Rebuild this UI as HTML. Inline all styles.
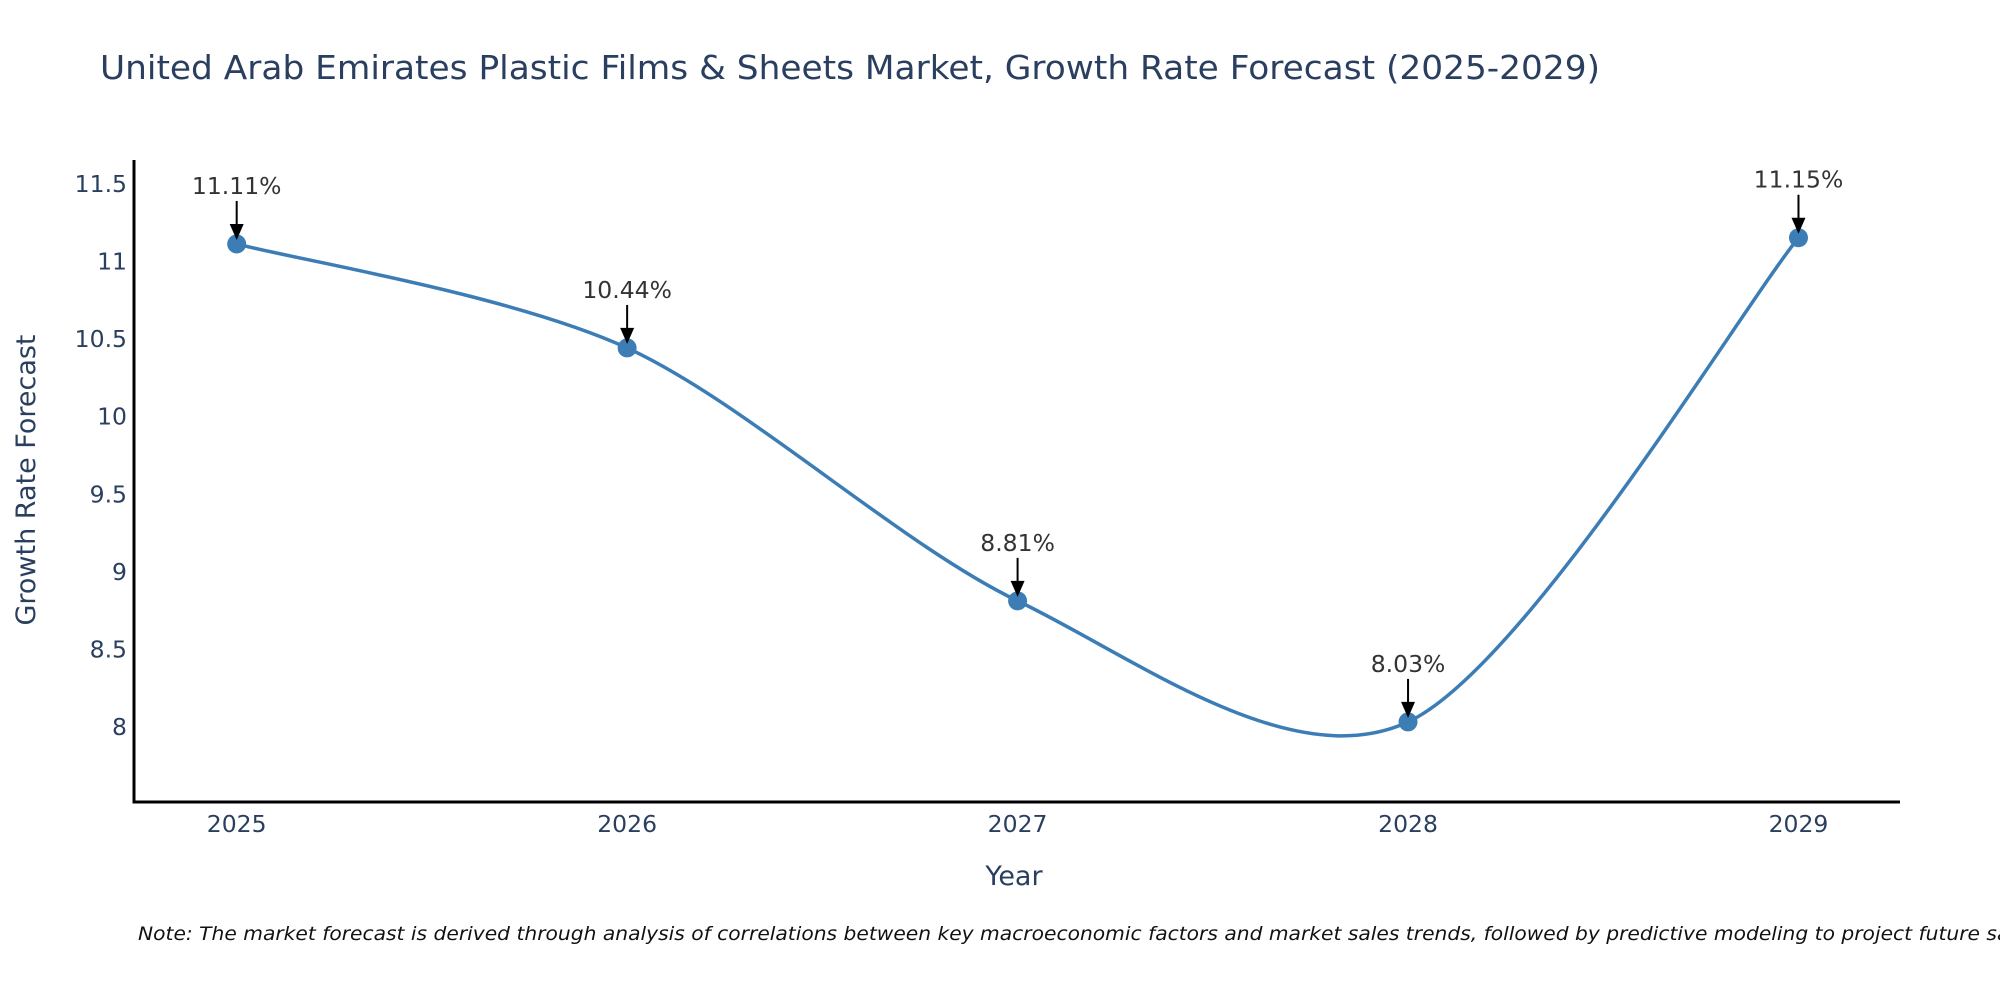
<!DOCTYPE html>
<html><head><meta charset="utf-8"><style>
html,body{margin:0;padding:0;background:#fff;}
svg{display:block;font-family:"DejaVu Sans","Liberation Sans",sans-serif;}
</style></head><body>
<svg id="chart" width="2000" height="1000" viewBox="0 0 2000 1000">
<text x="100" y="79" font-size="33" fill="#2a3f5f" textLength="1500" lengthAdjust="spacingAndGlyphs">United Arab Emirates Plastic Films &amp; Sheets Market, Growth Rate Forecast (2025-2029)</text>
<g id="plot"></g>
<text x="1014" y="885" font-size="27" fill="#2a3f5f" text-anchor="middle">Year</text>
<text transform="translate(35,480) rotate(-90)" font-size="27" fill="#2a3f5f" text-anchor="middle">Growth Rate Forecast</text>
<text x="138" y="940" font-size="19" font-style="italic" fill="#111" textLength="1900" lengthAdjust="spacingAndGlyphs">Note: The market forecast is derived through analysis of correlations between key macroeconomic factors and market sales trends, followed by predictive modeling to project future sales</text>
</svg>
<script>
const years = [2025, 2026, 2027, 2028, 2029];
const growth = [11.11, 10.44, 8.81, 8.03, 11.15];
const labels = ["11.11%", "10.44%", "8.81%", "8.03%", "11.15%"];
const yTicks = [8, 8.5, 9, 9.5, 10, 10.5, 11, 11.5];
const yTickLabels = ["8", "8.5", "9", "9.5", "10", "10.5", "11", "11.5"];

const NS = "http://www.w3.org/2000/svg";
const L = 134, R = 1900, T = 160, B = 802;
const xMin = 2024.737, xMax = 2029.26, yMin = 7.514, yMax = 11.651;
const xs = v => L + (v - xMin) / (xMax - xMin) * (R - L);
const ys = v => B - (v - yMin) / (yMax - yMin) * (B - T);
const g = document.getElementById('plot');
function mk(tag, attrs, parent) {
  const e = document.createElementNS(NS, tag);
  for (const k in attrs) e.setAttribute(k, attrs[k]);
  (parent || g).appendChild(e);
  return e;
}
const defs = mk('defs', {});
const mkr = mk('marker', {id: 'ah', markerWidth: 8, markerHeight: 8, refX: 7, refY: 4, orient: 'auto', markerUnits: 'userSpaceOnUse'}, defs);
mk('path', {d: 'M0,0 L8,4 L0,8 Z', fill: '#000', transform: 'scale(1.8) translate(-3.1,-1.8)'}, mkr);
mkr.setAttribute('viewBox', '0 0 8 8');
mkr.setAttribute('markerWidth', '16');
mkr.setAttribute('markerHeight', '16');

const ya = mk('line', {x1: L, y1: T, x2: L, y2: B + 1.5, stroke: '#000', 'stroke-width': 3});


const xa = mk('line', {x1: L - 1.5, y1: B, x2: R, y2: B, stroke: '#000', 'stroke-width': 3});



yTicks.forEach((v, i) => {
  const t = mk('text', {x: 127, y: ys(v) + 8.5, 'font-size': 23.5, fill: '#2a3f5f', 'text-anchor': 'end'});
  t.textContent = yTickLabels[i];
  
  
});
years.forEach(v => {
  const t = mk('text', {x: xs(v), y: 832, 'font-size': 23.5, fill: '#2a3f5f', 'text-anchor': 'middle'});
  t.textContent = String(v);
  
  
});

const pts = years.map((y, i) => [xs(y), ys(growth[i])]);
let d = `M${pts[0][0]},${pts[0][1]}`;
const k = 0.15;
for (let i = 0; i < pts.length - 1; i++) {
  const p0 = pts[i - 1] || pts[i], p1 = pts[i], p2 = pts[i + 1], p3 = pts[i + 2] || pts[i + 1];
  const c1 = [p1[0] + (p2[0] - p0[0]) * k, p1[1] + (p2[1] - p0[1]) * k];
  const c2 = [p2[0] - (p3[0] - p1[0]) * k, p2[1] - (p3[1] - p1[1]) * k];
  d += ` C${c1[0]},${c1[1]} ${c2[0]},${c2[1]} ${p2[0]},${p2[1]}`;
}
const line = mk('path', {d: d, fill: 'none', stroke: '#3b7db4', 'stroke-width': 3.5});



pts.forEach((p, i) => {
  const c = mk('circle', {cx: p[0], cy: p[1], r: 9.5, fill: '#3b7db4'});
  
  
  const a = mk('line', {x1: p[0], y1: p[1] - 43, x2: p[0], y2: p[1] - 18, stroke: '#000', 'stroke-width': 2});
  
  
  const h = mk('path', {d: `M${p[0] - 7},${p[1] - 20} L${p[0] + 7},${p[1] - 20} L${p[0]},${p[1] - 4} Z`, fill: '#000'});
  
  
  const t = mk('text', {x: p[0], y: p[1] - 50, 'font-size': 23.5, fill: '#333', 'text-anchor': 'middle'});
  t.textContent = labels[i];
  
  
});
</script>
</body></html>
